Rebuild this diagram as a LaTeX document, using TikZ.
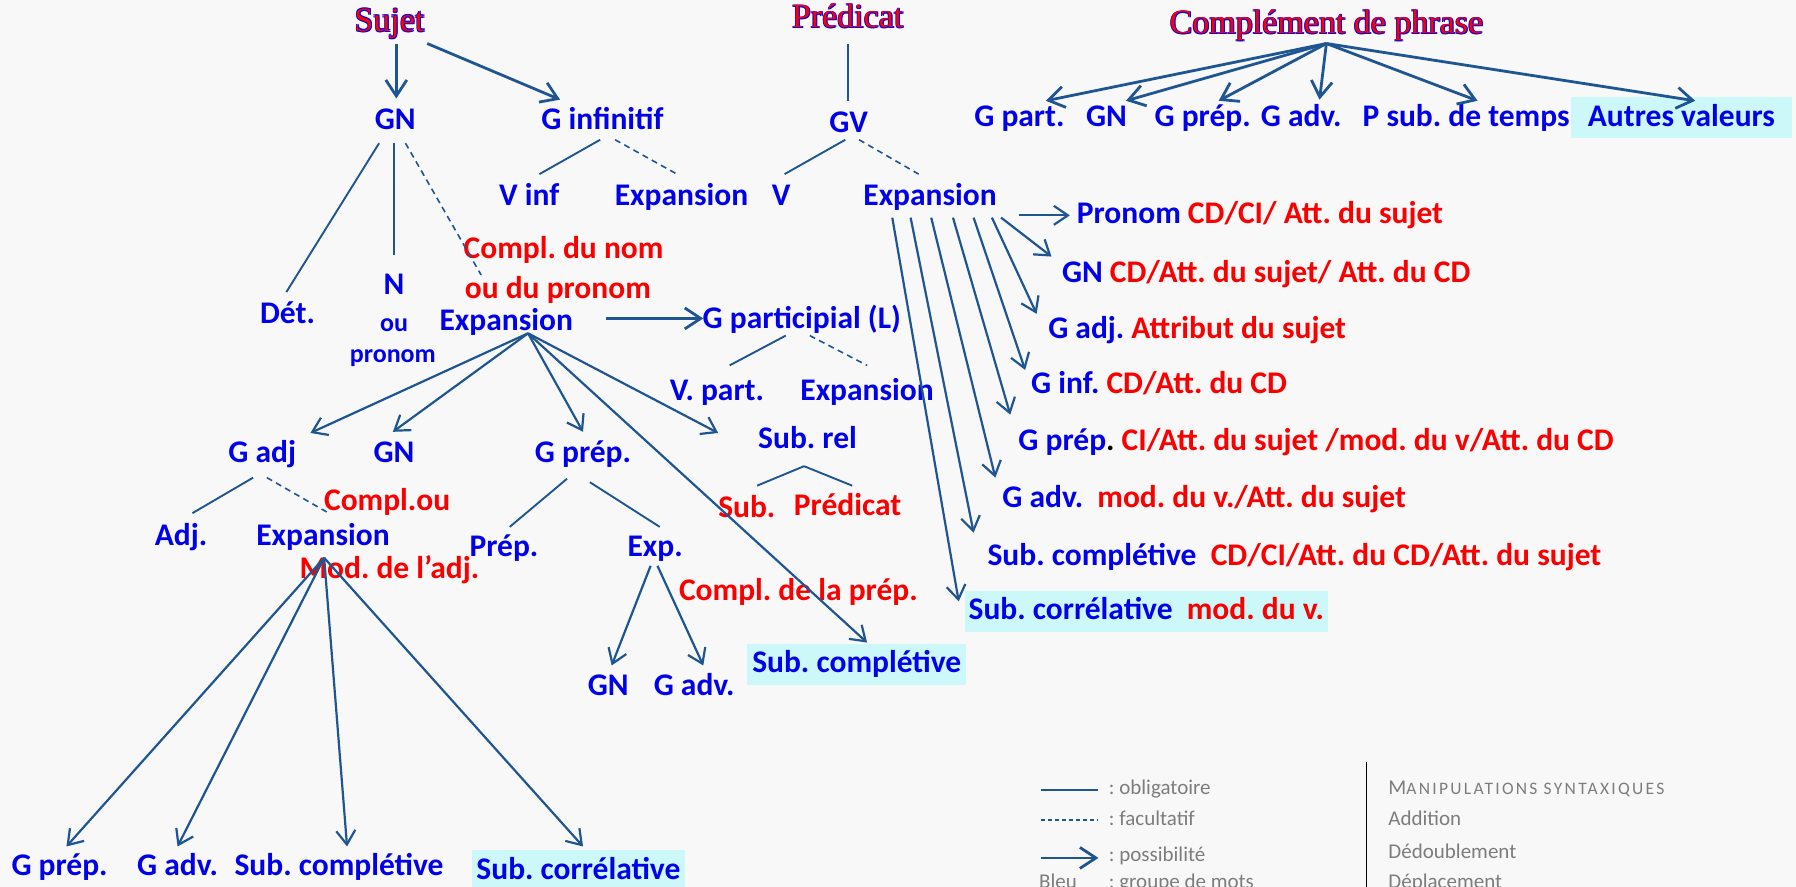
\documentclass[tikz,border=0pt]{standalone}
\usepackage{fontspec}
\setmainfont{Carlito}
\newfontfamily\titlefont{Liberation Serif}
\usetikzlibrary{arrows.meta,calc}
\definecolor{tblue}{RGB}{0,0,235}
\definecolor{tred}{RGB}{250,0,0}
\definecolor{lcol}{RGB}{31,86,145}
\definecolor{hlc}{RGB}{204,248,250}
\definecolor{gcol}{RGB}{125,125,125}
\definecolor{bgc}{RGB}{248,248,248}
\frenchspacing
\newcommand\outl[1]{\leavevmode\rlap{\textcolor{tblue}{\kern1pt\raisebox{-1pt}{#1}}}\rlap{\textcolor{tblue}{\kern-0.6pt\raisebox{0.6pt}{#1}}}\rlap{\textcolor{tblue}{\kern1pt\raisebox{0.6pt}{#1}}}\rlap{\textcolor{tblue}{\kern-0.6pt\raisebox{-1pt}{#1}}}\textcolor{tred}{#1}}
\tikzset{
  lab/.style={inner sep=0pt, font=\bfseries\fontsize{31.5}{38}\selectfont, text=tblue, text height=22pt, text depth=5pt},
  redlab/.style={lab, text=tred},
  smalllab/.style={lab, font=\bfseries\fontsize{26}{31}\selectfont, text height=18pt, text depth=5pt},
  ttl/.style={inner sep=0pt, font=\titlefont\fontsize{34}{40}\selectfont, text height=24pt, text depth=7pt},
  ln/.style={draw=lcol, line width=1.9pt},
  dsh/.style={ln, line width=1.6pt, dash pattern=on 6pt off 4.5pt},
  arr/.style={ln, line width=2.2pt, -{Straight Barb[length=14pt,width=19pt]}},
  tarr/.style={arr, line width=2.8pt, -{Straight Barb[length=16pt,width=21pt]}},
  hl/.style={fill=hlc, inner xsep=4pt, inner ysep=0pt, minimum height=41pt},
  leg/.style={inner sep=0pt, font=\fontsize{21}{25}\selectfont, text=gcol, text height=15pt, text depth=4pt, anchor=west},
}
\begin{document}
\begin{tikzpicture}[x=1.1454pt, y=-1.1454pt]
\useasboundingbox (0,0) rectangle (1568,774);
\clip (0,0) rectangle (1568,774);
\fill[bgc] (0,0) rectangle (1568,774);

% titles
\node[ttl] (sujet) at (340,20) {\outl{Sujet}};
\node[ttl] (pred) at (740,17) {\outl{Prédicat}};
\node[ttl] (cdp) at (1158,22) {\outl{Complément de phrase}};

% level 2
\node[lab] (gn1) at (345,106) {GN};
\node[lab] (ginf) at (526,106) {G infinitif};
\node[lab] (gv) at (741,108) {GV};
\node[lab] (cpart) at (890,103) {G part.};
\node[lab] (cgn) at (966,103) {GN};
\node[lab] (cprep) at (1050,103) {G prép.};
\node[lab] (cadv) at (1136,103) {G adv.};
\node[lab] (cpsub) at (1280,103) {P sub. de temps};
\node[lab,hl,minimum width=221pt] (cautres) at (1468,103) {Autres valeurs};

\node[lab] (vinf) at (462,172) {V inf};
\node[lab] (ginfexp) at (595,172) {Expansion};
\node[lab] (v) at (682,172) {V};
\node[lab] (gvexp) at (812,172) {Expansion};

% GN subtree
\node[lab] (det) at (251,275) {Dét.};
\node[lab] (nN) at (344,250) {N};
\node[smalllab] (nou) at (344,284) {ou};
\node[smalllab] (npro) at (343,311) {pronom};
\node[redlab] (compl) at (492,218) {Compl. du nom};
\node[redlab] (compl2) at (487,253) {ou du pronom};
\node[lab] (gnexp) at (442,281) {Expansion};
\node[lab] (gpart) at (700,279) {G participial (L)};
\node[lab] (vpart) at (626,342) {V. part.};
\node[lab] (gpexp) at (757,342) {Expansion};

\node[lab] (gadj) at (229,396) {G adj};
\node[lab] (gn2) at (344,396) {GN};
\node[lab] (gprep) at (509,396) {G prép.};
\node[lab] (subrel) at (705,384) {Sub. rel};

\node[lab] (adj) at (158,469) {Adj.};
\node[lab] (adjexp) at (282,469) {Expansion};
\node[redlab] (complou) at (338,438) {Compl.ou};
\node[redlab] (modadj) at (340,498) {Mod. de l’adj.};
\node[lab] (prep) at (440,478) {Prép.};
\node[lab] (expn) at (572,478) {Exp.};
\node[redlab] (compprep) at (697,517) {Compl. de la prép.};
\node[redlab] (sub) at (652,444) {Sub.};
\node[redlab] (predi) at (740,443) {Prédicat};

\node[lab] (gn3) at (531,600) {GN};
\node[lab] (gadv3) at (606,600) {G adv.};
\node[lab,hl,minimum width=219pt] (subcomp) at (748,580) {Sub. complétive};

% right list
\node[lab,anchor=west] (r1) at (940,188) {Pronom \textcolor{tred}{CD/CI/ Att. du sujet}};
\node[lab,anchor=west] (r2) at (927,239) {GN \textcolor{tred}{CD/Att. du sujet/ Att. du CD}};
\node[lab,anchor=west] (r3) at (915,288) {G adj. \textcolor{tred}{Attribut du sujet}};
\node[lab,anchor=west] (r4) at (900,336) {G inf. \textcolor{tred}{CD/Att. du CD}};
\node[lab,anchor=west] (r5) at (889,386) {G prép\textcolor{black}{.} \textcolor{tred}{CI/Att. du sujet /mod. du v/Att. du CD}};
\node[lab,anchor=west] (r6) at (875,436) {G adv.\ \ \textcolor{tred}{mod. du v./Att. du sujet}};
\node[lab,anchor=west] (r7) at (862,486) {Sub. complétive\ \ \textcolor{tred}{CD/CI/Att. du CD/Att. du sujet}};
\node[lab,hl,anchor=west] (r8) at (842,533.5) {Sub. corrélative\ \ \textcolor{tred}{mod. du v.}};

% bottom row
\node[lab] (b1) at (52,757) {G prép.};
\node[lab] (b2) at (155,757) {G adv.};
\node[lab] (b3) at (296,757) {Sub. complétive};
\node[lab,hl,minimum width=213pt] (b4) at (505,760) {Sub. corrélative};

% connectors top
\draw[tarr] ($(sujet)+(6,18)$) -- ($(gn1)+(1,-20)$);
\draw[tarr] ($(sujet)+(33,18)$) -- ($(ginf)+(-37,-19)$);
\draw[ln] ($(pred)+(0,21)$) -- ($(gv)+(-1,-20)$);
\foreach \t/\dx/\dy in {cpart/23/-15, cgn/17/-15, cprep/14/-15, cadv/16/-16, cpsub/10/-15, cautres/12/-15}
  \draw[tarr] ($(cdp)+(0,16)$) -- ($(\t)+(\dx,\dy)$);

% GN
\draw[ln] ($(gn1)+(-14,19)$) -- ($(det)+(-1,-20)$);
\draw[ln] ($(gn1)+(-1,19)$) -- ($(nN)+(0,-27)$);
\draw[dsh] ($(gn1)+(9,19)$) -- ($(gnexp)+(-22,-41)$);
% G infinitif
\draw[ln] ($(ginf)+(-2,16)$) -- ($(vinf)+(9,-20)$);
\draw[dsh] ($(ginf)+(11,16)$) -- ($(ginfexp)+(-4,-20)$);
% GV
\draw[ln] ($(gv)+(-3,14)$) -- ($(v)+(3,-20)$);
\draw[dsh] ($(gv)+(9,14)$) -- ($(gvexp)+(-10,-20)$);
% Expansion -> G participial
\draw[tarr] ($(gnexp)+(87,-3)$) -- ($(gpart)+(-86,-1)$);
\draw[ln] ($(gpart)+(-14,14)$) -- ($(vpart)+(11,-23)$);
\draw[dsh] ($(gpart)+(7,14)$) -- ($(gpexp)+(0,-23)$);
% Expansion (GN) arrows
\foreach \t/\dx/\dy in {gadj/42/-18, gn2/-1/-19, gprep/0/-19, subrel/-78/-6, subcomp/9/-19}
  \draw[arr] ($(gnexp)+(19,10)$) -- ($(\t)+(\dx,\dy)$);
% G adj
\draw[ln] ($(gadj)+(-8,21)$) -- ($(adj)+(10,-21)$);
\draw[dsh] ($(gadj)+(4,21)$) -- ($(adjexp)+(5,-21)$);
% G prep
\draw[ln] ($(gprep)+(-14,22)$) -- ($(prep)+(5,-18)$);
\draw[ln] ($(gprep)+(6,25)$) -- ($(expn)+(4,-18)$);
% Sub rel
\draw[ln] ($(subrel)+(-3,23)$) -- ($(sub)+(9,-20)$);
\draw[ln] ($(subrel)+(-3,23)$) -- ($(predi)+(4,-19)$);
% Exp
\draw[arr] ($(expn)+(-4,16)$) -- ($(gn3)+(3,-19)$);
\draw[arr] ($(expn)+(2,16)$) -- ($(gadv3)+(8,-19)$);
% GV expansion
\draw[arr] ($(gvexp)+(78,16)$) -- ($(r1.west)+(-6,0)$);
\draw[arr] ($(gvexp)+(62,18)$) -- ($(r2.west)+(-9,-15)$);
\draw[arr] ($(gvexp)+(54,18)$) -- ($(r3.west)+(-10,-14)$);
\draw[arr] ($(gvexp)+(38,18)$) -- ($(r4.west)+(-5,-13)$);
\draw[arr] ($(gvexp)+(20,18)$) -- ($(r5.west)+(-7,-24)$);
\draw[arr] ($(gvexp)+(1,18)$) -- ($(r6.west)+(-6,-19)$);
\draw[arr] ($(gvexp)+(-17,18)$) -- ($(r7.west)+(-12,-21)$);
\draw[arr] ($(gvexp)+(-33,18)$) -- ($(r8.west)+(-5,-8.5)$);
% Expansion (adj) arrows
\foreach \t/\dx/\dy in {b1/6/-18, b2/0/-18, b3/7/-18, b4/4/-21}
  \draw[arr] ($(adjexp)+(1,18)$) -- ($(\t)+(\dx,\dy)$);

% legend
\coordinate (la1) at (909,690); \coordinate (lb1) at (959,690);
\coordinate (la2) at (909,716); \coordinate (lb2) at (959,716);
\coordinate (la3) at (909,749); \coordinate (lb3) at (959,749);
\draw[ln] (la1) -- (lb1);
\draw[dsh, dash pattern=on 4pt off 3pt] (la2) -- (lb2);
\draw[tarr] (la3) -- (lb3);
\node[leg] (l1) at (968,689) {: obligatoire};
\node[leg] (l2) at (968,716) {: facultatif};
\node[leg] (l3) at (968,747) {: possibilité};
\node[leg] (l4) at (907,771) {Bleu};
\node[leg] (l5) at (968,771) {: groupe de mots};
\coordinate (vt) at (1193,665); \coordinate (vb) at (1193,790);
\draw[black, line width=1.8pt] (vt) -- (vb);
\node[leg] (m1) at (1212,689) {M{\addfontfeature{LetterSpace=13}\fontsize{17.5}{20}\selectfont ANIPULATIONS SYNTAXIQUES}};
\node[leg] (m2) at (1212,716) {Addition};
\node[leg] (m3) at (1212,745) {Dédoublement};
\node[leg] (m4) at (1212,771) {Déplacement};
\end{tikzpicture}
\end{document}
